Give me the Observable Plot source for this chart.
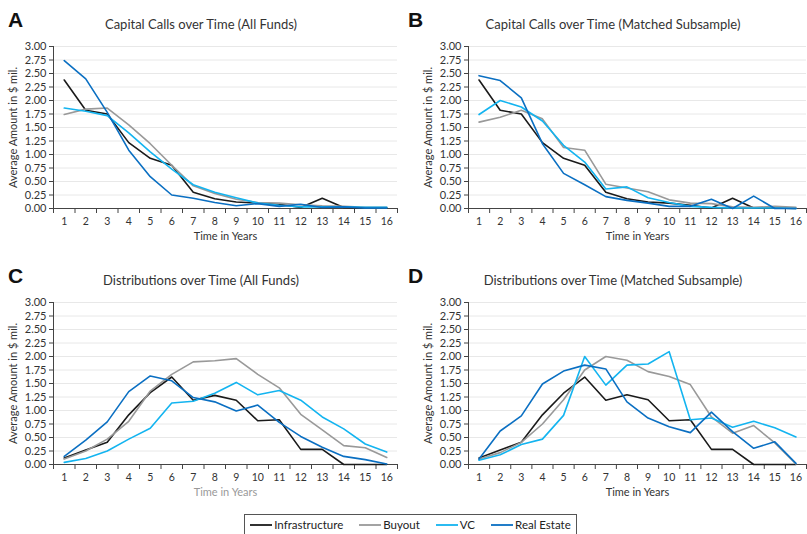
<!DOCTYPE html>
<html>
<head>
<meta charset="utf-8">
<script src="https://cdn.jsdelivr.net/npm/d3@7"></script>
<script src="https://cdn.jsdelivr.net/npm/@observablehq/plot@0.6"></script>
<style>
  html, body { margin: 0; padding: 0; background: #fff; }
  #root { position: relative; width: 807px; height: 534px; overflow: hidden; font-family: Lato, "Open Sans", sans-serif; color: #333; }
  .panel { position: absolute; }
  .title { position: absolute; font-size: 13px; color: #333; white-space: nowrap; transform: translate(-50%, -50%); }
  .letter { position: absolute; font-size: 21px; font-weight: 900; color: #111; font-family: "Liberation Sans", Arial, sans-serif; }
  #legend { position: absolute; left: 244px; top: 514px; width: 333px; height: 30px; border: 1px solid #555; box-sizing: border-box; display: flex; align-items: flex-start; padding-top: 3px; justify-content: center; gap: 16px; font-size: 11.5px; color: #222; }
  #legend .item { display: flex; align-items: center; gap: 2px; }
</style>
</head>
<body>
<div id="root"></div>
<script>
// ---- Data ----
const years = [1,2,3,4,5,6,7,8,9,10,11,12,13,14,15,16];
const seriesNames = ["Infrastructure", "Buyout", "VC", "Real Estate"];
const seriesColors = ["#1a1a1a", "#999999", "#13b4f0", "#0a6fc2"];
const yTicks = [0,0.25,0.5,0.75,1,1.25,1.5,1.75,2,2.25,2.5,2.75,3];

// Panel A: Capital Calls over Time (All Funds)
const callsAllInfra    = [2.38,1.82,1.75,1.22,0.93,0.80,0.30,0.18,0.12,0.10,0.08,0.02,0.19,0.02,0.01,0.01];
const callsAllBuyout   = [1.74,1.84,1.86,1.55,1.20,0.80,0.42,0.28,0.17,0.11,0.10,0.07,0.05,0.04,0.02,0.02];
const callsAllVC       = [1.86,1.80,1.72,1.40,1.05,0.73,0.44,0.30,0.20,0.10,0.06,0.03,0.03,0.03,0.02,0.02];
const callsAllRE       = [2.74,2.40,1.78,1.08,0.59,0.25,0.19,0.11,0.05,0.09,0.04,0.08,0.02,0.03,0.01,0.01];

// Panel B: Capital Calls over Time (Matched Subsample)
const callsMatchInfra  = [2.38,1.82,1.75,1.22,0.93,0.80,0.30,0.18,0.12,0.10,0.06,0.01,0.19,0.01,0.01,0.00];
const callsMatchBuyout = [1.60,1.69,1.82,1.66,1.13,1.08,0.45,0.38,0.31,0.16,0.10,0.09,0.03,0.02,0.04,0.02];
const callsMatchVC     = [1.74,2.00,1.88,1.62,1.17,0.86,0.36,0.40,0.20,0.11,0.04,0.02,0.01,0.01,0.01,0.00];
const callsMatchRE     = [2.46,2.37,2.05,1.20,0.65,0.44,0.22,0.15,0.10,0.04,0.04,0.17,0.00,0.23,0.00,0.00];

// Panel C: Distributions over Time (All Funds)
const distAllInfra     = [0.12,0.27,0.41,0.92,1.33,1.62,1.19,1.28,1.19,0.81,0.83,0.28,0.28,0.00,0.00,0.00];
const distAllBuyout    = [0.10,0.25,0.47,0.80,1.36,1.67,1.90,1.92,1.96,1.67,1.42,0.93,0.64,0.35,0.31,0.13];
const distAllVC        = [0.04,0.11,0.25,0.47,0.67,1.14,1.17,1.32,1.52,1.29,1.37,1.19,0.88,0.66,0.38,0.23];
const distAllRE        = [0.15,0.45,0.79,1.35,1.64,1.55,1.24,1.16,0.99,1.10,0.78,0.52,0.32,0.15,0.09,0.01];

// Panel D: Distributions over Time (Matched Subsample)
const distMatchInfra   = [0.12,0.27,0.41,0.92,1.32,1.62,1.19,1.29,1.20,0.81,0.83,0.28,0.28,0.00,0.00,0.00];
const distMatchBuyout  = [0.10,0.22,0.41,0.75,1.20,1.75,2.00,1.93,1.72,1.63,1.48,0.88,0.58,0.72,0.40,0.01];
const distMatchVC      = [0.08,0.18,0.37,0.47,0.91,2.00,1.47,1.84,1.86,2.09,0.83,0.86,0.69,0.80,0.68,0.51];
const distMatchRE      = [0.10,0.62,0.90,1.49,1.73,1.84,1.77,1.16,0.86,0.70,0.59,0.97,0.61,0.30,0.42,0.02];

const panels = [
  {letter: "A", title: "Capital Calls over Time (All Funds)", series: [callsAllInfra, callsAllBuyout, callsAllVC, callsAllRE],
   left: 0, top: 0, width: 400, marginLeft: 53, marginRight: 3, titleX: 201, xLabelColor: "#333"},
  {letter: "B", title: "Capital Calls over Time (Matched Subsample)", series: [callsMatchInfra, callsMatchBuyout, callsMatchVC, callsMatchRE],
   left: 400, top: 0, width: 407, marginLeft: 68, marginRight: 1, titleX: 613, xLabelColor: "#333"},
  {letter: "C", title: "Distributions over Time (All Funds)", series: [distAllInfra, distAllBuyout, distAllVC, distAllRE],
   left: 0, top: 256, width: 400, marginLeft: 53, marginRight: 3, titleX: 201, xLabelColor: "#999"},
  {letter: "D", title: "Distributions over Time (Matched Subsample)", series: [distMatchInfra, distMatchBuyout, distMatchVC, distMatchRE],
   left: 400, top: 256, width: 407, marginLeft: 68, marginRight: 1, titleX: 613, xLabelColor: "#333"}
];

const root = document.getElementById("root");
const halfTicks = d3.range(0.5, 17, 1);

for (const p of panels) {
  const data = [];
  p.series.forEach((vals, si) => vals.forEach((v, i) => data.push({year: years[i], value: v, series: seriesNames[si]})));
  const height = 250;
  const plotBottom = 208;
  const chart = Plot.plot({
    width: p.width,
    height,
    marginLeft: p.marginLeft,
    marginRight: p.marginRight,
    marginTop: 46,
    marginBottom: height - plotBottom,
    style: {fontFamily: "Lato, 'Open Sans', sans-serif", fontSize: "10.5px", color: "#333", background: "transparent"},
    x: {domain: [0.5, 16.5]},
    y: {domain: [0, 3]},
    color: {domain: seriesNames, range: seriesColors},
    marks: [
      Plot.gridY(yTicks, {stroke: "#e8e8e8", strokeOpacity: 1}),
      Plot.axisY(yTicks, {tickFormat: d => d.toFixed(2), tickSize: 4, tickPadding: 3, stroke: "#444",
        label: "Average Amount in $ mil.", labelAnchor: "center", labelArrow: "none", labelOffset: 44, fill: "#333", fontSize: 11}),
      Plot.axisX(years, {tickSize: 0, tickPadding: 9, label: null, fill: "#333"}),
      Plot.axisX(halfTicks, {tickSize: 5, stroke: "#444", tickFormat: () => "", label: "Time in Years",
        labelAnchor: "center", labelArrow: "none", labelOffset: 31, fill: p.xLabelColor, fontSize: 11}),
      Plot.ruleX([0.5], {stroke: "#444"}),
      Plot.ruleY([0], {stroke: "#444"}),
      Plot.line(data, {x: "year", y: "value", stroke: "series", strokeWidth: 1.6})
    ]
  });
  const wrap = document.createElement("div");
  wrap.className = "panel";
  wrap.style.left = p.left + "px";
  wrap.style.top = p.top + "px";
  wrap.appendChild(chart);
  root.appendChild(wrap);

  const t = document.createElement("div");
  t.className = "title";
  t.textContent = p.title;
  t.style.left = p.titleX + "px";
  t.style.top = (p.top + 24) + "px";
  root.appendChild(t);

  const l = document.createElement("div");
  l.className = "letter";
  l.textContent = p.letter;
  l.style.left = (p.left + 8) + "px";
  l.style.top = (p.top + 8) + "px";
  root.appendChild(l);
}

// Legend
const legend = document.createElement("div");
legend.id = "legend";
seriesNames.forEach((name, i) => {
  const item = document.createElement("span");
  item.className = "item";
  item.innerHTML = `<svg width="22" height="8"><line x1="0" x2="22" y1="4" y2="4" stroke="${seriesColors[i]}" stroke-width="1.8"/></svg><span>${name}</span>`;
  legend.appendChild(item);
});
root.appendChild(legend);
</script>
</body>
</html>
